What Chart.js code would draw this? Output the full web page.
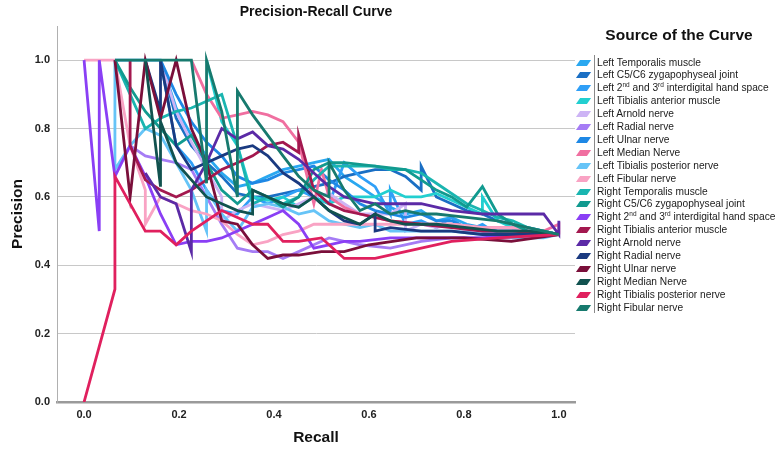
<!DOCTYPE html>
<html>
<head>
<meta charset="utf-8">
<script src="https://cdn.jsdelivr.net/npm/chart.js@4/dist/chart.umd.min.js"></script>
<style>
  body { margin: 0; background: #fff; font-family: "Liberation Sans", Arial, sans-serif; }
  #wrap { position: relative; width: 784px; height: 453px; }
  #legend { position: absolute; left: 572px; top: 0; width: 212px; height: 453px; }
  #legend .ttl { position: absolute; left: 0; width: 214px; top: 26px; text-align: center;
    font-weight: bold; font-size: 15.5px; color: #111; }
  #legend .sep { position: absolute; left: 22px; top: 55px; width: 1px; height: 258px; background: #8a8a8a; }
  #legend .item { position: absolute; left: 5px; height: 13px; line-height: 13px; font-size: 10.2px; color: #1a1a1a; white-space: nowrap; }
  #legend .sw { position: absolute; left: 1px; top: 4px; width: 11px; height: 6px; transform: skewX(-35deg); }
  #legend .txt { position: absolute; left: 20px; top: 0; }
  #legend sup { font-size: 6.5px; line-height: 0; vertical-align: 4px; }
</style>
</head>
<body>
<div id="wrap">
  <canvas id="prChart"></canvas>
  <div id="legend"></div>
</div>
<script>
// axis ticks
const xTicks = [0, 0.2, 0.4, 0.6, 0.8, 1.0];
const yTicks = [0, 0.2, 0.4, 0.6, 0.8, 1.0];

// legend entries
const curveNames = [
  'Left Temporalis muscle',
  'Left C5/C6 zygapophyseal joint',
  'Left 2nd and 3rd interdigital hand space',
  'Left Tibialis anterior muscle',
  'Left Arnold nerve',
  'Left Radial nerve',
  'Left Ulnar nerve',
  'Left Median Nerve',
  'Left Tibialis posterior nerve',
  'Left Fibular nerve',
  'Right Temporalis muscle',
  'Right C5/C6 zygapophyseal joint',
  'Right 2nd and 3rd interdigital hand space',
  'Right Tibialis anterior muscle',
  'Right Arnold nerve',
  'Right Radial nerve',
  'Right Ulnar nerve',
  'Right Median Nerve',
  'Right Tibialis posterior nerve',
  'Right Fibular nerve'
];

const curveColors = [
  '#2aa8f0', '#1a6fc4', '#2f9ff7', '#22cfd0', '#cdb4f5',
  '#a57cf5', '#1e88e5', '#f06fa0', '#66c4f7', '#f9a3c4',
  '#1ab5b0', '#119a8f', '#8a3ff5', '#a3184f', '#5b2aa6',
  '#1a3a80', '#7a0f3a', '#11524f', '#e0205e', '#177a6e'
];

// [recall, precision] points
const leftTemporalis = [[0.065,1],[0.097,1],[0.129,1],[0.161,1],[0.194,0.86],[0.226,0.78],[0.258,0.72],[0.29,0.67],[0.323,0.63],[0.355,0.64],[0.387,0.66],[0.419,0.68],[0.452,0.69],[0.484,0.7],[0.516,0.71],[0.548,0.66],[0.581,0.63],[0.613,0.6],[0.645,0.57],[0.677,0.55],[0.71,0.56],[0.742,0.53],[0.774,0.54],[0.806,0.52],[0.839,0.51],[0.871,0.5],[0.903,0.5],[0.935,0.49],[0.968,0.5],[1,0.49]];
const leftC5C6 = [[0.161,1],[0.194,0.83],[0.226,0.75],[0.258,0.7],[0.29,0.66],[0.323,0.61],[0.355,0.6],[0.387,0.6],[0.419,0.61],[0.452,0.62],[0.484,0.63],[0.516,0.64],[0.548,0.66],[0.581,0.67],[0.613,0.68],[0.645,0.68],[0.677,0.66],[0.71,0.62],[0.71,0.69],[0.742,0.6],[0.774,0.58],[0.806,0.56],[0.839,0.55],[0.871,0.53],[0.903,0.52],[0.935,0.51],[0.968,0.5],[1,0.49]];
const leftHandSpace = [[0.161,1],[0.194,0.75],[0.226,0.7],[0.258,0.62],[0.29,0.56],[0.323,0.55],[0.355,0.6],[0.387,0.58],[0.419,0.6],[0.452,0.62],[0.484,0.6],[0.516,0.58],[0.548,0.7],[0.581,0.66],[0.613,0.63],[0.645,0.55],[0.645,0.62],[0.677,0.52],[0.71,0.53],[0.742,0.51],[0.774,0.54],[0.806,0.5],[0.839,0.52],[0.871,0.49],[0.903,0.5],[0.935,0.5],[1,0.49]];
const leftTibAnterior = [[0.258,1],[0.29,0.82],[0.323,0.75],[0.355,0.6],[0.387,0.59],[0.419,0.6],[0.452,0.57],[0.484,0.6],[0.516,0.58],[0.548,0.6],[0.581,0.6],[0.613,0.6],[0.645,0.62],[0.677,0.6],[0.71,0.6],[0.742,0.61],[0.774,0.59],[0.806,0.57],[0.839,0.55],[0.839,0.6],[0.871,0.53],[0.903,0.51],[0.935,0.5],[0.968,0.5],[1,0.49]];
const leftArnold = [[0.161,1],[0.194,0.85],[0.226,0.76],[0.258,0.68],[0.29,0.6],[0.29,0.53],[0.323,0.56],[0.355,0.58],[0.387,0.57],[0.419,0.56],[0.452,0.58],[0.484,0.6],[0.516,0.61],[0.548,0.58],[0.581,0.55],[0.613,0.55],[0.645,0.55],[0.677,0.58],[0.677,0.5],[0.71,0.52],[0.742,0.51],[0.774,0.52],[0.806,0.5],[0.839,0.5],[0.871,0.49],[0.903,0.5],[0.935,0.49],[1,0.49]];
const leftRadial = [[0.097,0.75],[0.129,0.72],[0.161,0.71],[0.194,0.7],[0.226,0.68],[0.258,0.6],[0.29,0.52],[0.323,0.45],[0.355,0.44],[0.387,0.44],[0.419,0.42],[0.452,0.44],[0.484,0.46],[0.516,0.48],[0.548,0.47],[0.581,0.46],[0.645,0.45],[0.71,0.47],[0.774,0.48],[0.839,0.48],[0.903,0.48],[1,0.49]];
const leftUlnar = [[0.161,1],[0.194,0.9],[0.226,0.82],[0.258,0.76],[0.29,0.72],[0.323,0.66],[0.355,0.64],[0.387,0.65],[0.419,0.67],[0.452,0.68],[0.484,0.69],[0.516,0.65],[0.548,0.62],[0.581,0.58],[0.613,0.56],[0.645,0.55],[0.677,0.54],[0.71,0.55],[0.742,0.53],[0.774,0.53],[0.806,0.51],[0.839,0.5],[0.871,0.5],[0.903,0.5],[0.935,0.5],[1,0.49]];
const leftMedian = [[0.226,1],[0.258,0.9],[0.29,0.83],[0.323,0.84],[0.355,0.85],[0.387,0.84],[0.419,0.82],[0.452,0.76],[0.484,0.58],[0.5,0.68],[0.516,0.6],[0.548,0.57],[0.581,0.55],[0.613,0.54],[0.645,0.53],[0.71,0.52],[0.774,0.52],[0.839,0.51],[0.903,0.51],[0.968,0.5],[1,0.52],[1,0.49]];
const leftTibPosterior = [[0.065,1],[0.065,0.68],[0.097,0.75],[0.129,0.8],[0.161,0.78],[0.194,0.7],[0.226,0.62],[0.258,0.5],[0.258,0.62],[0.29,0.55],[0.323,0.5],[0.355,0.57],[0.387,0.58],[0.419,0.57],[0.452,0.55],[0.484,0.56],[0.516,0.53],[0.548,0.52],[0.581,0.51],[0.613,0.52],[0.645,0.5],[0.71,0.5],[0.774,0.5],[0.839,0.49],[0.903,0.48],[0.968,0.48],[1,0.49]];
const leftFibular = [[0,1],[0.032,1],[0.065,1],[0.097,0.75],[0.129,0.62],[0.129,0.52],[0.161,0.6],[0.194,0.58],[0.226,0.56],[0.258,0.55],[0.29,0.53],[0.323,0.49],[0.355,0.46],[0.387,0.47],[0.419,0.49],[0.452,0.5],[0.484,0.52],[0.516,0.52],[0.581,0.52],[0.645,0.52],[0.71,0.52],[0.774,0.52],[0.839,0.51],[0.903,0.51],[0.968,0.5],[1,0.49]];
const rightTemporalis = [[0.065,1],[0.129,0.8],[0.161,0.83],[0.194,0.85],[0.226,0.86],[0.258,0.88],[0.29,0.9],[0.323,0.75],[0.355,0.58],[0.387,0.6],[0.419,0.58],[0.452,0.6],[0.484,0.65],[0.516,0.69],[0.548,0.69],[0.581,0.69],[0.613,0.69],[0.645,0.68],[0.677,0.68],[0.71,0.67],[0.742,0.64],[0.774,0.61],[0.806,0.58],[0.839,0.56],[0.871,0.54],[0.903,0.53],[0.935,0.51],[0.968,0.5],[1,0.49]];
const rightC5C6 = [[0.065,1],[0.097,0.92],[0.129,0.85],[0.161,0.8],[0.194,0.75],[0.226,0.78],[0.258,0.7],[0.29,0.62],[0.323,0.58],[0.355,0.62],[0.387,0.6],[0.419,0.57],[0.452,0.6],[0.484,0.68],[0.516,0.7],[0.548,0.7],[0.613,0.69],[0.677,0.68],[0.71,0.65],[0.742,0.62],[0.774,0.6],[0.806,0.57],[0.839,0.63],[0.871,0.55],[0.903,0.52],[0.935,0.5],[0.968,0.5],[1,0.49]];
const rightHandSpace = [[0,1],[0.032,0.5],[0.032,1],[0.065,0.66],[0.097,0.75],[0.129,0.66],[0.161,0.55],[0.194,0.46],[0.226,0.47],[0.258,0.47],[0.29,0.48],[0.323,0.5],[0.355,0.52],[0.387,0.54],[0.419,0.56],[0.452,0.52],[0.484,0.45],[0.516,0.46],[0.548,0.47],[0.581,0.47],[0.645,0.48],[0.71,0.48],[0.774,0.48],[0.839,0.48],[0.903,0.49],[1,0.49]];
const rightTibAnterior = [[0.097,1],[0.097,0.75],[0.129,0.65],[0.161,0.62],[0.194,0.6],[0.226,0.62],[0.258,0.65],[0.29,0.68],[0.323,0.7],[0.355,0.72],[0.387,0.75],[0.419,0.76],[0.452,0.73],[0.452,0.78],[0.484,0.62],[0.516,0.58],[0.548,0.56],[0.581,0.55],[0.645,0.53],[0.71,0.52],[0.774,0.51],[0.839,0.5],[0.903,0.5],[1,0.49]];
const rightArnold = [[0.129,0.67],[0.161,0.6],[0.194,0.58],[0.226,0.44],[0.226,0.62],[0.258,0.7],[0.29,0.8],[0.323,0.77],[0.355,0.79],[0.387,0.75],[0.419,0.74],[0.452,0.71],[0.484,0.67],[0.516,0.63],[0.548,0.6],[0.581,0.59],[0.613,0.58],[0.677,0.58],[0.71,0.58],[0.742,0.57],[0.774,0.56],[0.839,0.55],[0.903,0.55],[0.968,0.55],[1,0.49],[1,0.53]];
const rightRadial = [[0.129,1],[0.161,0.85],[0.161,1],[0.194,0.75],[0.226,0.68],[0.258,0.7],[0.29,0.72],[0.323,0.74],[0.355,0.75],[0.387,0.72],[0.419,0.67],[0.452,0.64],[0.484,0.6],[0.516,0.56],[0.548,0.53],[0.581,0.52],[0.613,0.55],[0.613,0.5],[0.645,0.51],[0.71,0.5],[0.774,0.5],[0.839,0.49],[0.903,0.49],[1,0.49]];
const rightUlnar = [[0.065,1],[0.097,0.6],[0.129,1],[0.161,0.83],[0.194,1],[0.226,0.8],[0.258,0.7],[0.29,0.53],[0.323,0.52],[0.355,0.46],[0.387,0.42],[0.419,0.43],[0.452,0.43],[0.5,0.44],[0.548,0.44],[0.6,0.46],[0.7,0.48],[0.8,0.48],[0.9,0.47],[1,0.49]];
const rightMedian = [[0.129,1],[0.161,0.63],[0.161,0.82],[0.194,0.7],[0.226,0.65],[0.258,0.6],[0.29,0.58],[0.323,0.56],[0.355,0.55],[0.355,0.62],[0.387,0.6],[0.419,0.58],[0.452,0.57],[0.484,0.6],[0.516,0.56],[0.548,0.54],[0.581,0.52],[0.613,0.55],[0.645,0.53],[0.677,0.52],[0.742,0.52],[0.806,0.51],[0.871,0.5],[0.935,0.5],[1,0.49]];
const rightTibPosterior = [[0,0],[0.065,0.33],[0.065,0.66],[0.129,0.5],[0.161,0.5],[0.194,0.46],[0.226,0.5],[0.29,0.56],[0.323,0.54],[0.355,0.52],[0.387,0.52],[0.419,0.47],[0.452,0.47],[0.5,0.48],[0.548,0.42],[0.613,0.42],[0.677,0.44],[0.774,0.47],[0.871,0.48],[1,0.49]];
const rightFibular = [[0.065,1],[0.097,1],[0.129,1],[0.161,1],[0.194,1],[0.226,1],[0.258,0.64],[0.258,1],[0.29,0.85],[0.323,0.6],[0.323,0.91],[0.355,0.84],[0.387,0.78],[0.419,0.72],[0.452,0.66],[0.484,0.62],[0.516,0.6],[0.516,0.7],[0.548,0.62],[0.581,0.56],[0.613,0.58],[0.645,0.55],[0.677,0.56],[0.71,0.55],[0.742,0.55],[0.806,0.54],[0.871,0.53],[0.935,0.51],[1,0.49]];

const curves = [
  leftTemporalis, leftC5C6, leftHandSpace, leftTibAnterior, leftArnold,
  leftRadial, leftUlnar, leftMedian, leftTibPosterior, leftFibular,
  rightTemporalis, rightC5C6, rightHandSpace, rightTibAnterior, rightArnold,
  rightRadial, rightUlnar, rightMedian, rightTibPosterior, rightFibular
];

const FONT = '"Liberation Sans", Arial, Helvetica, sans-serif';

const datasets = curves.map((pts, i) => ({
  label: curveNames[i],
  data: pts.map(p => ({ x: p[0], y: p[1] })),
  showLine: true,
  borderColor: curveColors[i],
  backgroundColor: curveColors[i],
  borderWidth: 2.8,
  pointRadius: 0,
  pointHoverRadius: 0,
  tension: 0,
  fill: false,
  order: curves.length - i
}));

// chart title centred over the plot area
const plotTitle = {
  id: 'plotTitle',
  afterDraw(chart) {
    const { ctx, chartArea } = chart;
    ctx.save();
    ctx.font = 'bold 14px ' + FONT;
    ctx.fillStyle = '#111';
    ctx.textAlign = 'center';
    ctx.textBaseline = 'middle';
    ctx.fillText('Precision-Recall Curve', (chartArea.left + chartArea.right) / 2, 12);
    ctx.restore();
  }
};

new Chart(document.getElementById('prChart'), {
  type: 'scatter',
  data: { datasets },
  plugins: [plotTitle],
  options: {
    responsive: true,
    maintainAspectRatio: false,
    animation: false,
    layout: { padding: { top: 26, right: 209, left: 0, bottom: 0 } },
    plugins: {
      legend: { display: false },
      tooltip: { enabled: false }
    },
    scales: {
      x: {
        type: 'linear',
        min: -0.057,
        max: 1.034,
        afterFit(scale) { scale.height = 51; },
        afterBuildTicks(scale) { scale.ticks = xTicks.map(v => ({ value: v })); },
        grid: { display: false, drawTicks: false },
        border: { display: true, color: '#9a9a9a', width: 2.5 },
        ticks: {
          padding: 6,
          color: '#222',
          font: { family: FONT, size: 11, weight: 'bold' },
          callback: v => v.toFixed(1)
        },
        title: {
          display: true,
          text: 'Recall',
          color: '#111',
          font: { family: FONT, size: 15.5, weight: 'bold' },
          padding: { top: 0, bottom: 6 }
        }
      },
      y: {
        type: 'linear',
        min: 0,
        max: 1.1,
        afterFit(scale) { scale.width = 57; },
        afterBuildTicks(scale) { scale.ticks = yTicks.map(v => ({ value: v })); },
        grid: { color: '#c8c8c8', lineWidth: 1, drawTicks: false },
        border: { display: true, color: '#b0b0b0', width: 1 },
        ticks: {
          padding: 7,
          color: '#222',
          font: { family: FONT, size: 11, weight: 'bold' },
          callback: v => v.toFixed(1)
        },
        title: {
          display: true,
          text: 'Precision',
          color: '#111',
          font: { family: FONT, size: 15.5, weight: 'bold' },
          padding: { top: 8, bottom: 0 }
        }
      }
    }
  }
});

// legend panel on the right
const legend = document.getElementById('legend');
let html = '<div class="ttl">Source of the Curve</div><div class="sep"></div>';
curveNames.forEach((name, i) => {
  const top = 55.5 + i * 12.9;
  const label = name.replace(/(\d)(nd|rd)/g, '$1<sup>$2</sup>');
  html += '<div class="item" style="top:' + top + 'px">' +
    '<span class="sw" style="background:' + curveColors[i] + '"></span>' +
    '<span class="txt">' + label + '</span></div>';
});
legend.innerHTML = html;
</script>
</body>
</html>
